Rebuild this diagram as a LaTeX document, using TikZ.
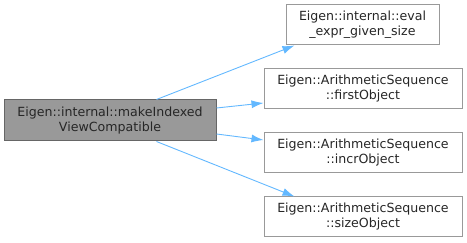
\documentclass[tikz,border=0pt]{standalone}
\usepackage{fontspec}
\setmainfont{DejaVu Sans}
\usetikzlibrary{arrows.meta,calc}
\definecolor{edgeblue}{HTML}{63B8FF}
\definecolor{mainfill}{HTML}{999999}
\definecolor{mainborder}{HTML}{666666}
\definecolor{boxborder}{HTML}{999999}
\begin{document}
\begin{tikzpicture}[x=1pt,y=-1pt,
  box/.style={draw=boxborder,fill=white,line width=1pt,align=center,
    font=\fontsize{12.6}{15}\selectfont,inner sep=0pt,text=black!85},
  mainbox/.style={box,draw=mainborder,fill=mainfill},
  call/.style={draw=edgeblue,line width=0.9pt,-{Latex[length=12pt,width=8pt]}}]
\useasboundingbox (0,0) rectangle (467,243);
% caller
\node[mainbox,minimum width=212pt,minimum height=41pt] (mk) at (110,120.5)
  {Eigen::internal::makeIndexed\\ViewCompatible};
% callees
\node[box,minimum width=153pt,minimum height=40pt] (ev) at (362.5,25)
  {Eigen::internal::eval\\\_expr\_given\_size};
\node[box,minimum width=198pt,minimum height=40pt] (fo) at (363,89)
  {Eigen::ArithmeticSequence\\::firstObject};
\node[box,minimum width=198pt,minimum height=40pt] (io) at (363,153)
  {Eigen::ArithmeticSequence\\::incrObject};
\node[box,minimum width=198pt,minimum height=40pt] (so) at (363,217)
  {Eigen::ArithmeticSequence\\::sizeObject};
% calls
\draw[call] ($(mk.north west)+(153,0)$) -- ($(ev.south west)+(9,0)$);
\draw[call] ($(mk.east)+(0,-12.5)$) -- ($(fo.west)+(0,14)$);
\draw[call] ($(mk.east)+(0,13.5)$) -- ($(io.west)+(0,-13)$);
\draw[call] ($(mk.south west)+(153,0)$) -- ($(so.north west)+(31,0)$);
\end{tikzpicture}
\end{document}
